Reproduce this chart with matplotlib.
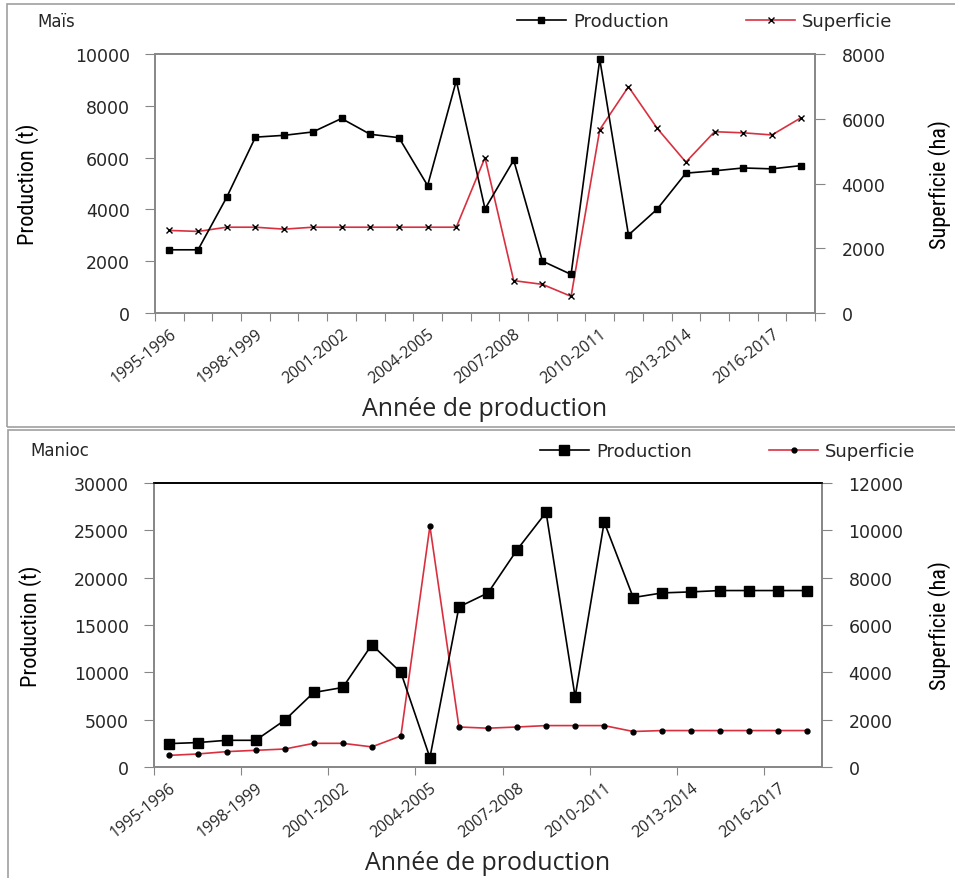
import matplotlib
matplotlib.use("Agg")
import matplotlib.pyplot as plt
from matplotlib.patches import Rectangle
import numpy as np

W, H = 955, 879

years = ["1995-1996", "1996-1997", "1997-1998", "1998-1999", "1999-2000",
         "2000-2001", "2001-2002", "2002-2003", "2003-2004", "2004-2005",
         "2005-2006", "2006-2007", "2007-2008", "2008-2009", "2009-2010",
         "2010-2011", "2011-2012", "2012-2013", "2013-2014", "2014-2015",
         "2015-2016", "2016-2017", "2017-2018"]

# Maïs
mais_prod = [2440, 2440, 4470, 6790, 6860, 6990, 7510, 6900, 6770, 4920,
             8970, 4020, 5900, 2005, 1490, 9795, 3010, 4010, 5400, 5490,
             5600, 5565, 5690]
mais_sup = [2550, 2520, 2650, 2650, 2590, 2650, 2650, 2650, 2650, 2650,
            2650, 4800, 1000, 885, 515, 5665, 6990, 5705, 4660, 5600,
            5565, 5500, 6025]

# Manioc
manioc_prod = [2470, 2580, 2820, 2820, 4940, 7870, 8400, 12920, 9990, 990,
               16910, 18390, 22940, 26900, 7410, 25870, 17900, 18390, 18500,
               18640, 18640, 18640, 18640]
manioc_sup = [490, 550, 650, 705, 760, 1000, 1000, 850, 1310, 10180,
              1690, 1640, 1690, 1750, 1750, 1750, 1500, 1540, 1540, 1540,
              1540, 1540, 1540]

RED = "#d9303f"
GRAY = "#868686"
TXT = "#262626"
NARROW = ["Roboto Condensed", "Liberation Sans Narrow", "Roboto", "DejaVu Sans"]
SOFT = ["Open Sans", "DejaVu Sans"]

fig = plt.figure(figsize=(W / 100, H / 100), dpi=100)


def px(x0, y0, x1, y1):
    # pixel box -> figure fraction [left, bottom, width, height]
    return [x0 / W, 1 - y1 / H, (x1 - x0) / W, (y1 - y0) / H]


# panel borders
for box in [(7, 5, 960, 428), (8, 431, 960, 884)]:
    fig.add_artist(Rectangle((box[0] / W, 1 - box[3] / H),
                             (box[2] - box[0]) / W, (box[3] - box[1]) / H,
                             transform=fig.transFigure, fill=False,
                             edgecolor="#a0a0a0", linewidth=1.2))


def panel(rect, prod, sup, ylim1, step1, ylim2, step2, name, sup_marker,
          sup_ms, prod_ms, every_tick, name_xy, leg_xy, top_color, lab_x):
    ax = fig.add_axes(rect)
    ax2 = ax.twinx()
    n = len(years)
    x = np.arange(n)

    l2, = ax2.plot(x, sup, color=RED, lw=1.2, marker=sup_marker,
                   ms=sup_ms, mfc="black", mec="black", mew=1.0,
                   label="Superficie", zorder=2)
    l1, = ax.plot(x, prod, color="black", lw=1.2, marker="s", ms=prod_ms,
                  mfc="black", mec="black", label="Production", zorder=3)
    ax.set_zorder(ax2.get_zorder() + 1)
    ax.patch.set_visible(False)

    ax.set_xlim(-0.5, n - 0.5)
    ax.set_ylim(0, ylim1)
    ax2.set_ylim(0, ylim2)
    ax.set_yticks(np.arange(0, ylim1 + 1, step1))
    ax2.set_yticks(np.arange(0, ylim2 + 1, step2))

    bounds = np.arange(-0.5, n - 0.5 + 0.01, 1 if every_tick else 3)
    ax.set_xticks(bounds)
    ax.set_xticklabels([])
    centers = np.arange(0, n, 3)
    ax.set_xticks(centers, minor=True)
    ax.set_xticklabels([years[i] for i in centers], minor=True,
                       rotation=38, ha="right", rotation_mode="anchor",
                       fontsize=11.5, color=TXT, family=SOFT)
    ax.tick_params(axis="x", which="minor", length=0, pad=9)
    ax.tick_params(axis="x", which="major", length=6, color=GRAY,
                   direction="out")
    ax.tick_params(axis="y", length=7, color=GRAY, pad=11, labelsize=12.5,
                   labelcolor=TXT)
    ax2.tick_params(axis="y", length=7, color=GRAY, pad=12, labelsize=12.5,
                    labelcolor=TXT)

    for a in (ax, ax2):
        for s in a.spines.values():
            s.set_color(GRAY)
            s.set_linewidth(1.2)
        a.spines["top"].set_color(top_color)

    ax.set_ylabel("Production (t)", family=NARROW, fontsize=16, color="black")
    ax2.set_ylabel("Superficie (ha)", family=NARROW, fontsize=16,
                   color="black")
    ax.yaxis.set_label_coords(lab_x[0], 0.5)
    ax2.yaxis.set_label_coords(lab_x[1], 0.5)
    ax.set_xlabel("Année de production", family=SOFT, fontsize=18,
                  color=TXT, labelpad=7)

    fig.text(name_xy[0] / W, 1 - name_xy[1] / H, name, fontsize=12,
             color=TXT, va="center", ha="left")

    ax2.legend(handles=[l1, l2], ncol=2, frameon=False, loc="center left",
               bbox_to_anchor=(leg_xy[0] / W, 1 - leg_xy[1] / H),
               bbox_transform=fig.transFigure, borderpad=0, borderaxespad=0,
               handlelength=2.7, handletextpad=0.4, columnspacing=4.3,
               prop={"size": 13}, labelcolor=TXT, markerscale=1.0)
    return ax, ax2


panel(px(155, 55, 815, 314), mais_prod, mais_sup, 10000, 2000, 8000, 2000,
      "Maïs", "x", 4.5, 4.5, True, (37, 22), (517, 22), GRAY,
      (-0.176, 1.171))
panel(px(154, 484, 822, 768), manioc_prod, manioc_sup, 30000, 5000, 12000,
      2000, "Manioc", "o", 3.5, 6.5, False, (30, 451), (540, 452), "black",
      (-0.168, 1.158))

fig.savefig("out.png", dpi=100)
